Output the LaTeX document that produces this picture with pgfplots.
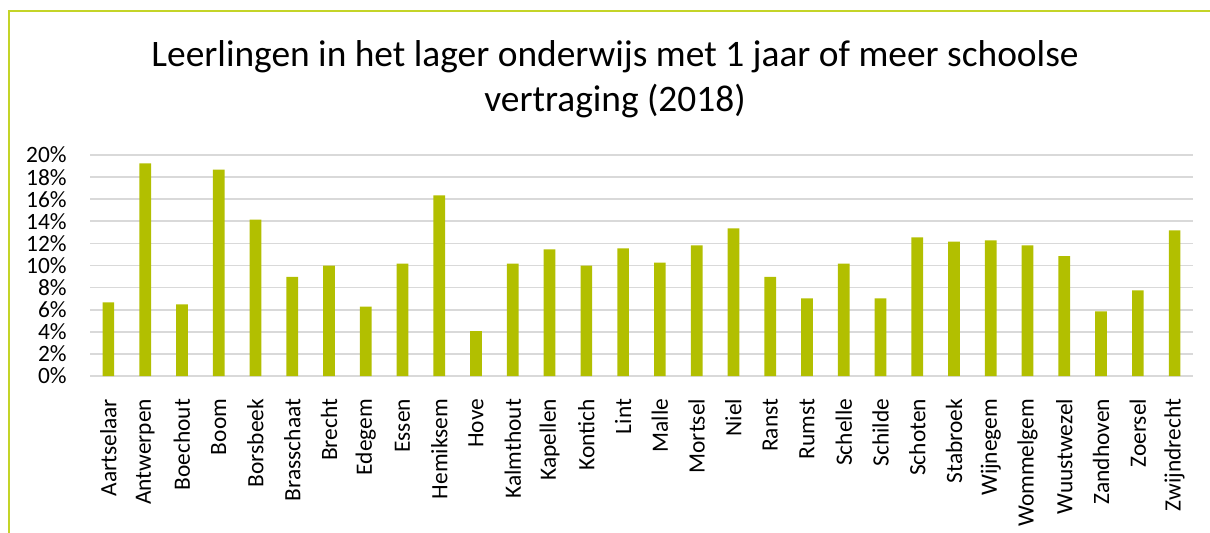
\documentclass[border=0pt]{standalone}
\usepackage{fontspec}
\setmainfont{Carlito}
\usepackage{pgfplots}
\pgfplotsset{compat=1.18}

\definecolor{barcol}{RGB}{178,191,0}
\definecolor{framecol}{RGB}{196,212,40}
\definecolor{gridcol}{RGB}{217,217,217}

\begin{document}
\begin{tikzpicture}
% 1 px of the reference = 0.5pt
\useasboundingbox (0,0) rectangle (605pt,266pt);
\draw[framecol, line width=1pt] (4.5pt,-2pt) -- (4.5pt,260.75pt) -- (607pt,260.75pt);

\node[anchor=base, font=\fontsize{18.7}{22}\selectfont] at (307.5pt,233pt)
  {Leerlingen in het lager onderwijs met 1 jaar of meer schoolse};
\node[anchor=base, font=\fontsize{18.7}{22}\selectfont] at (307.5pt,210.5pt)
  {vertraging (2018)};

\begin{axis}[
    at={(45pt,78pt)}, anchor=south west,
    scale only axis,
    width=551.5pt, height=110.5pt,
    xmin=-0.5, xmax=29.5,
    ymin=0, ymax=20,
    ybar, bar width=5.85pt, bar shift=0pt,
    axis line style={draw=none},
    tick style={draw=none},
    ymajorgrids,
    grid style={gridcol, line width=0.85pt},
    ytick={0,2,...,20},
    yticklabel={\pgfmathprintnumber[assume math mode=true]{\tick}\%},
    yticklabel style={font=\fontsize{11.7}{14}\selectfont, inner sep=0pt, anchor=east, xshift=-11.5pt},
    xtick={0,...,29},
    xticklabels={Aartselaar,Antwerpen,Boechout,Boom,Borsbeek,Brasschaat,Brecht,Edegem,Essen,Hemiksem,Hove,Kalmthout,Kapellen,Kontich,Lint,Malle,Mortsel,Niel,Ranst,Rumst,Schelle,Schilde,Schoten,Stabroek,Wijnegem,Wommelgem,Wuustwezel,Zandhoven,Zoersel,Zwijndrecht},
    xticklabel style={font=\fontsize{11.7}{14}\selectfont, inner sep=0pt, yshift=-7pt, rotate=90, anchor=east},
]
\addplot[fill=barcol, draw=none] coordinates {
    (0,6.67) (1,19.25) (2,6.49) (3,18.67) (4,14.15) (5,8.96) (6,9.98)
    (7,6.27) (8,10.17) (9,16.35) (10,4.07) (11,10.17) (12,11.46) (13,9.98)
    (14,11.55) (15,10.26) (16,11.83) (17,13.36) (18,8.96) (19,7.03)
    (20,10.17) (21,7.03) (22,12.55) (23,12.16) (24,12.28) (25,11.83)
    (26,10.86) (27,5.85) (28,7.75) (29,13.18)
};
\end{axis}
\end{tikzpicture}
\end{document}
